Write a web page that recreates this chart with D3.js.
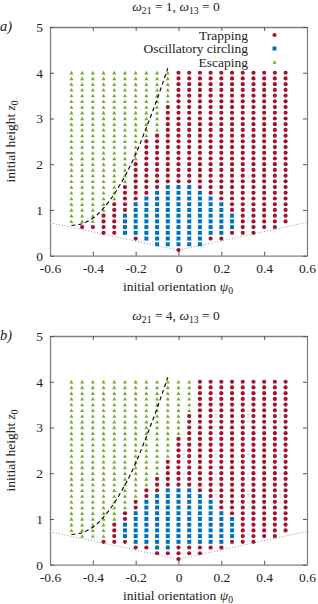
<!DOCTYPE html>
<html><head><meta charset="utf-8">
<script src="https://cdn.jsdelivr.net/npm/d3@7/dist/d3.min.js"></script>
<style>
body{margin:0;background:#fff}
text{font-family:"Liberation Serif","DejaVu Serif",serif;fill:#222}
</style>
</head><body>
<svg id="chart" width="318" height="604"></svg>
<script>
// ---------- data ----------
const psi0 = [-0.5,-0.45,-0.4,-0.35,-0.3,-0.25,-0.2,-0.15,-0.1,-0.05,0,0.05,0.1,0.15,0.2,0.25,0.3,0.35,0.4,0.45,0.5];
const z0Levels = [0.125,0.25,0.375,0.5,0.625,0.75,0.875,1,1.125,1.25,1.375,1.5,1.625,1.75,1.875,2,
                  2.125,2.25,2.375,2.5,2.625,2.75,2.875,3,3.125,3.25,3.375,3.5,3.625,3.75,3.875,4];
// lowest sampled row (1-based index into z0Levels) per psi0 column
const lowestRow = [6,5,5,4,4,4,3,3,2,2,1,2,2,3,3,4,4,4,5,5,6];
// panel a: escaping for rows >= escapeFrom; oscillatory circling for circleLo..circleHi; otherwise trapping
const escapeFromA = [6,6,6,8,10,13,17,21,22,27,99,99,99,99,99,99,99,99,99,99,99];
const circleLoA   = [0,0,0,0,0,4,4,3,2,2,2,2,2,4,4,5,0,0,0,0,0];
const circleHiA   = [0,0,0,0,0,7,9,10,11,12,12,12,11,10,9,7,0,0,0,0,0];
// panel b
const escapeFromB = [6,5,5,5,8,10,12,14,16,19,23,27,99,99,99,99,99,99,99,99,99];
const circleLoB   = [0,0,0,0,0,5,4,4,3,3,4,4,4,4,4,5,0,0,0,0,0];
const circleHiB   = [0,0,0,0,0,7,9,11,12,13,13,13,12,11,9,8,0,0,0,0,0];
// dashed curve
const curvePsi = [-0.5,-0.45,-0.4,-0.35,-0.3,-0.25,-0.2,-0.15,-0.1,-0.05];
const curveZ   = [0.66,0.70,0.82,1.04,1.35,1.74,2.22,2.8,3.42,4.1];
// dotted lower boundary
const boundPsi = [-0.6,0,0.6];
const boundZ   = [0.72,0.12,0.73];
const xTicks = [-0.6,-0.4,-0.2,0,0.2,0.4,0.6];
const yTicks = [0,1,2,3,4,5];
const categories = ["Trapping","Oscillatory circling","Escaping"];
const catColors = ["#A2142F","#0072BD","#77AC30"];
const panels = [
  {label:"a)", w21:"1", w13:"0", esc:escapeFromA, lo:circleLoA, hi:circleHiA, legend:true},
  {label:"b)", w21:"4", w13:"0", esc:escapeFromB, lo:circleLoB, hi:circleHiB, legend:false}
];

// ---------- drawing ----------
const svg = d3.select("#chart");
const x = d3.scaleLinear().domain([-0.6,0.6]).range([50,307]);
const y = d3.scaleLinear().domain([0,5]).range([255.7,27]);
const FS = 13.5;

function marker(sel, cat, cx, cy){
  if(cat===0) sel.append("circle").attr("cx",cx).attr("cy",cy).attr("r",2.1).attr("fill",catColors[0]);
  else if(cat===1) sel.append("rect").attr("x",cx-2).attr("y",cy-2).attr("width",4).attr("height",4).attr("fill",catColors[1]);
  else sel.append("path").attr("d",`M${cx-2},${cy+1.7}L${cx+2},${cy+1.7}L${cx},${cy-1.9}Z`).attr("fill",catColors[2]);
}

function subText(g, parts, attrs){
  const t = g.append("text");
  Object.entries(attrs).forEach(([k,v])=>t.attr(k,v));
  let shifted=false;
  parts.forEach(p=>{
    const ts = t.append("tspan").text(p.t);
    if(p.i) ts.attr("font-style","italic");
    if(p.s){ ts.attr("font-size",FS*0.72).attr("dy",shifted?0:3); shifted=true; }
    else if(shifted){ ts.attr("dy",-3); shifted=false; }
  });
  return t;
}

panels.forEach((P,pi)=>{
  const g = svg.append("g").attr("transform",`translate(0,${pi*309})`);
  // title
  subText(g,[{t:"ω",i:1},{t:"21",s:1},{t:" = "+P.w21+", "},{t:"ω",i:1},{t:"13",s:1},{t:" = "+P.w13}],
    {x:176,y:11,"text-anchor":"middle","font-size":FS});
  g.append("text").attr("x",0).attr("y",31).attr("font-size",FS+1).attr("font-style","italic").text(P.label);

  // axes frame & ticks
  const tickLen=4;
  const bx = g.append("g").attr("transform",`translate(0,${y(0)})`)
    .call(d3.axisBottom(x).tickValues(xTicks).tickSizeInner(-tickLen).tickSizeOuter(0).tickPadding(7)
      .tickFormat(d=>String(d)));
  const tx = g.append("g").attr("transform",`translate(0,${y(5)})`)
    .call(d3.axisTop(x).tickValues(xTicks).tickSizeInner(-tickLen).tickSizeOuter(0).tickFormat(""));
  const ly = g.append("g").attr("transform",`translate(${x(-0.6)},0)`)
    .call(d3.axisLeft(y).tickValues(yTicks).tickSizeInner(-tickLen).tickSizeOuter(0).tickPadding(7).tickFormat(d=>String(d)));
  const ry = g.append("g").attr("transform",`translate(${x(0.6)},0)`)
    .call(d3.axisRight(y).tickValues(yTicks).tickSizeInner(-tickLen).tickSizeOuter(0).tickFormat(""));
  [bx,tx,ly,ry].forEach(a=>{
    a.select(".domain").attr("stroke","#808080").attr("stroke-width",1.3);
    a.selectAll(".tick line").attr("stroke","#555");
    a.selectAll(".tick text").attr("font-size",FS).attr("font-family","'Liberation Serif',serif").attr("fill","#222");
  });
  bx.selectAll(".tick text").attr("dy","0.8em");

  // axis labels
  subText(g,[{t:"initial orientation "},{t:"ψ",i:1},{t:"0",s:1}],{x:178,y:291,"text-anchor":"middle","font-size":FS});
  subText(g,[{t:"initial height "},{t:"z",i:1},{t:"0",s:1}],
    {transform:`translate(15,${(y(0)+y(5))/2}) rotate(-90)`,"text-anchor":"middle","font-size":FS});

  // dotted lower boundary
  g.append("path").datum(boundPsi.map((p,i)=>[p,boundZ[i]]))
    .attr("d",d3.line().x(d=>x(d[0])).y(d=>y(d[1])))
    .attr("fill","none").attr("stroke","#999").attr("stroke-width",1).attr("stroke-dasharray","1,2");

  // points
  const pts = g.append("g");
  psi0.forEach((p,ci)=>{
    for(let k=lowestRow[ci]; k<=z0Levels.length; k++){
      const cat = k>=P.esc[ci] ? 2 : (k>=P.lo[ci] && k<=P.hi[ci] ? 1 : 0);
      marker(pts,cat,x(p),y(z0Levels[k-1]));
    }
  });

  // dashed curve
  g.append("path").datum(curvePsi.map((p,i)=>[p,curveZ[i]]))
    .attr("d",d3.line().x(d=>x(d[0])).y(d=>y(d[1])).curve(d3.curveCatmullRom))
    .attr("fill","none").attr("stroke","#000").attr("stroke-width",1.1).attr("stroke-dasharray","4,3");

  // legend
  if(P.legend){
    categories.forEach((c,i)=>{
      const ly0 = 35+i*13.5;
      g.append("text").attr("x",248).attr("y",ly0+4.5).attr("text-anchor","end").attr("font-size",FS).text(c);
      marker(g,i,274.5,ly0);
    });
  }
});
</script>
</body></html>
